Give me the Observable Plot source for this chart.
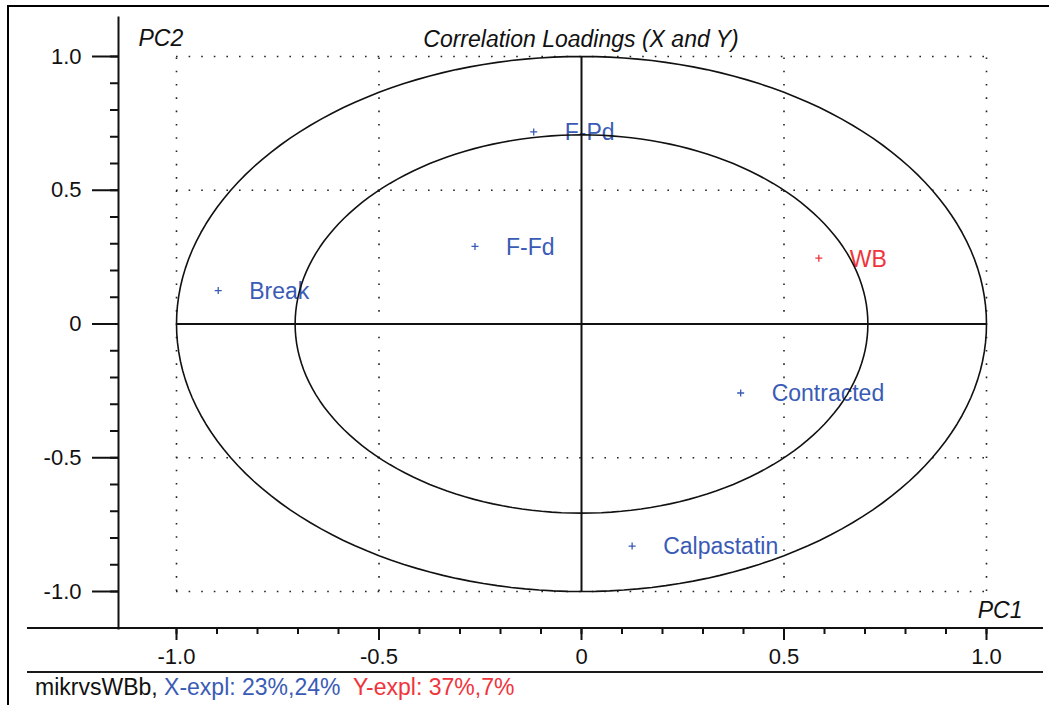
<!DOCTYPE html>
<html>
<head>
<meta charset="utf-8">
<script src="https://cdn.jsdelivr.net/npm/d3@7"></script>
<script src="https://cdn.jsdelivr.net/npm/@observablehq/plot@0.6"></script>
<style>
  html, body { margin: 0; padding: 0; background: #fff; }
  #wrap { position: relative; width: 1049px; height: 705px; overflow: hidden; background: #fff;
          font-family: 'Liberation Sans', Arial, sans-serif; }
  #chart { position: absolute; left: 0; top: 0; }
  #border { position: absolute; left: 7px; top: 5px; right: -4px; bottom: -4px;
            border-left: 2px solid #000; border-top: 2px solid #000; pointer-events: none; }
  #footer { position: absolute; left: 27px; top: 671px; width: 1016px; border-top: 2px solid #1a1a1a;
            font-size: 23px; line-height: 28px; padding-left: 8px; box-sizing: border-box; white-space: pre; color: #111; }
  .xb { color: #3a5bb5; }
  .yr { color: #f0343c; }
</style>
</head>
<body>
<div id="wrap">
  <div id="chart"></div>
  <div id="border"></div>
  <div id="footer"></div>
</div>
<script>
// ---- data ----
const labels = ["F-Pd", "F-Fd", "Break", "WB", "Contracted", "Calpastatin"];
const pc1 = [-0.118, -0.263, -0.897, 0.586, 0.393, 0.125];
const pc2 = [0.718, 0.290, 0.125, 0.246, -0.258, -0.830];
const block = ["X", "X", "X", "Y", "X", "X"];   // X-variables blue, Y-variables red
const majorTicks = [-1, -0.5, 0, 0.5, 1];
const minorTicks = [-1, -0.9, -0.8, -0.7, -0.6, -0.5, -0.4, -0.3, -0.2, -0.1, 0,
                    0.1, 0.2, 0.3, 0.4, 0.5, 0.6, 0.7, 0.8, 0.9, 1];
const gridValues = [-1, -0.5, 0.5, 1];
const circleRadii = [1, Math.SQRT1_2];   // 100% and 50% explained variance
const title = "Correlation Loadings (X and Y)";
const xName = "PC1", yName = "PC2";
const footerName = "mikrvsWBb, ";
const footerX = "X-expl: 23%,24%";
const footerY = "Y-expl: 37%,7%";

const blue = "#3a5bb5", red = "#f0343c";
const colorOf = b => b === "Y" ? red : blue;

const points = labels.map((name, i) => ({name, pc1: pc1[i], pc2: pc2[i], block: block[i]}));

// reference circles (geometry, not data)
const rings = [];
circleRadii.forEach((r, k) => {
  for (let a = 0; a <= 360; a += 2) {
    const t = a * Math.PI / 180;
    rings.push({ring: k, x: r * Math.cos(t), y: r * Math.sin(t)});
  }
});

const fmt = d => d === 0 ? "0" : d.toFixed(1);

// x-axis base line that extends left past the y-axis
const xAxisLine = (index, scales, values, dims) => {
  const y = dims.height - dims.marginBottom;
  return d3.create("svg:line")
    .attr("x1", 27).attr("x2", dims.width - dims.marginRight)
    .attr("y1", y).attr("y2", y)
    .attr("stroke", "#111").attr("stroke-width", 2).node();
};

const plot = Plot.plot({
  width: 1049,
  height: 672,
  marginTop: 17,
  marginLeft: 118,
  marginRight: 6,
  marginBottom: 44,
  x: {domain: [-1, 1], range: [176, 986], label: null},
  y: {domain: [-1, 1], range: [591, 56], label: null},
  style: {fontFamily: "'Liberation Sans', Arial, sans-serif", fontSize: "22px", background: "transparent", color: "#111", overflow: "visible"},
  marks: [
    // dotted grid
    Plot.ruleY(gridValues, {x1: -1, x2: 1, stroke: "#222", strokeWidth: 1.6, strokeDasharray: "1.6,11"}),
    Plot.ruleX(gridValues, {y1: -1, y2: 1, stroke: "#222", strokeWidth: 1.6, strokeDasharray: "1.6,11.7"}),
    // labels
    Plot.text(points, {x: "pc1", y: "pc2", text: "name", fill: d => colorOf(d.block),
      textAnchor: "start", dx: 31, dy: 1, fontSize: 23}),
    // circles
    Plot.line(rings, {x: "x", y: "y", z: "ring", stroke: "#111", strokeWidth: 1.6}),
    // axes cross
    Plot.ruleY([0], {x1: -1, x2: 1, stroke: "#111", strokeWidth: 2}),
    Plot.ruleX([0], {y1: -1, y2: 1, stroke: "#111", strokeWidth: 2}),
    // points
    Plot.dot(points, {x: "pc1", y: "pc2", symbol: "plus", r: 2.4, stroke: d => colorOf(d.block), strokeWidth: 1.3}),
    // axes
    Plot.frame({anchor: "left", stroke: "#111", strokeWidth: 2}),
    xAxisLine,
    Plot.axisY(majorTicks, {anchor: "left", tickSize: 26, tickPadding: 11, tickFormat: fmt, strokeWidth: 2, label: null, fontSize: 22}),
    Plot.axisY(minorTicks, {anchor: "left", tickSize: 8, tickFormat: () => "", strokeWidth: 2, label: null}),
    Plot.axisX(majorTicks, {anchor: "bottom", tickSize: 12, tickPadding: 8, tickFormat: fmt, strokeWidth: 2, label: null, fontSize: 22}),
    Plot.axisX(minorTicks, {anchor: "bottom", tickSize: 6, tickFormat: () => "", strokeWidth: 2, label: null}),
    // titles
    Plot.text([title], {frameAnchor: "top", dy: 13, fontStyle: "italic", fontSize: 23, fill: "#111"}),
    Plot.text([yName], {frameAnchor: "top-left", dx: 20, dy: 12, textAnchor: "start", fontStyle: "italic", fontSize: 23, fill: "#111"}),
    Plot.text([xName], {frameAnchor: "bottom-right", dx: -21, dy: -11, textAnchor: "end", fontStyle: "italic", fontSize: 23, fill: "#111"})
  ]
});
document.getElementById("chart").appendChild(plot);

const footer = document.getElementById("footer");
footer.innerHTML = "";
footer.append(document.createTextNode(footerName));
const sx = document.createElement("span"); sx.className = "xb"; sx.textContent = footerX; footer.append(sx);
footer.append(document.createTextNode("  "));
const sy = document.createElement("span"); sy.className = "yr"; sy.textContent = footerY; footer.append(sy);
</script>
</body>
</html>
